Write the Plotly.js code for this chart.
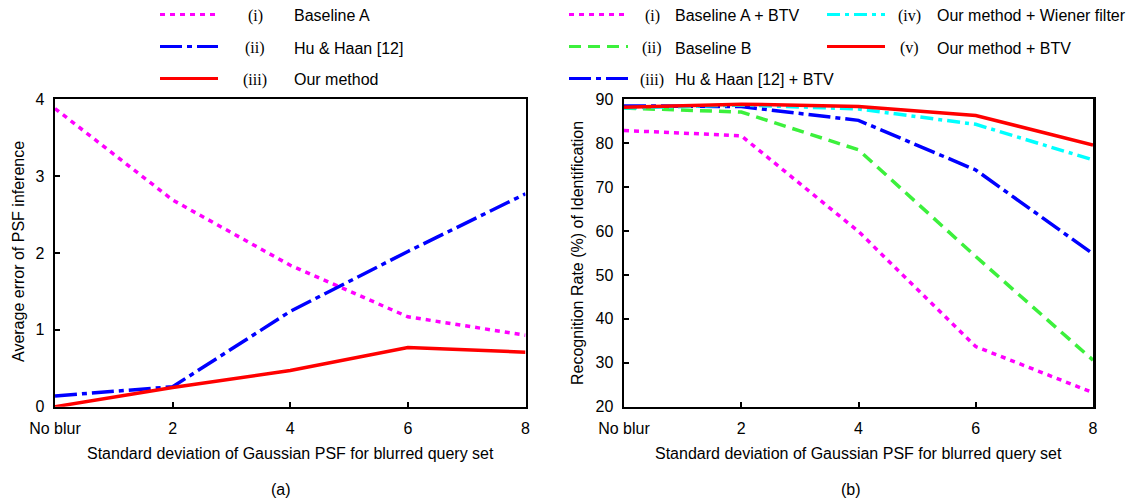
<!DOCTYPE html>
<html>
<head>
<meta charset="utf-8">
<script src="https://cdn.plot.ly/plotly-3.0.1.min.js"></script>
<style>
html,body{margin:0;padding:0;background:#fff;}
#chart{width:1133px;height:502px;}
</style>
</head>
<body>
<div id="chart"></div>
<script>
// ---------- data ----------
const xVals = [0, 2, 4, 6, 8];
const xTickText = ['No blur', '2', '4', '6', '8'];

// (a) average error of PSF inference
const aRoman = ['(i)', '(ii)', '(iii)'];
const aNames = ['Baseline A', 'Hu & Haan [12]', 'Our method'];
const aBaselineA = [3.88, 2.69, 1.84, 1.17, 0.93];
const aHuHaan    = [0.14, 0.26, 1.24, 2.02, 2.77];
const aOurs      = [0.00, 0.25, 0.47, 0.77, 0.71];

// (b) recognition rate (%)
const bRoman = ['(i)', '(ii)', '(iii)', '(iv)', '(v)'];
const bNames = ['Baseline A + BTV', 'Baseline B', 'Hu & Haan [12] + BTV',
                'Our method + Wiener filter', 'Our method + BTV'];
const bBaselineA_BTV = [82.9, 81.7, 59.9, 33.7, 23.2];
const bBaselineB     = [88.0, 87.1, 78.5, 54.2, 30.6];
const bHuHaan_BTV    = [88.5, 88.35, 85.2, 73.9, 54.8];
const bOursWiener    = [88.0, 88.7, 87.8, 84.3, 76.2];
const bOursBTV       = [88.2, 88.9, 88.35, 86.3, 79.6];

// ---------- styles ----------
const SANS = 'Liberation Sans, Arial, Helvetica, sans-serif';
const SERIF = 'Liberation Serif, Times New Roman, serif';
const W = 1133, H = 502;
const styleMagenta = {color: '#ff00ff', width: 3.5, dash: '5px,5px'};
const styleBlue    = {color: '#0000ff', width: 3.5, dash: '22px,5px,5px,5px'};
const styleRed     = {color: '#ff0000', width: 3.5, dash: 'solid'};
const styleGreen   = {color: '#3cf03c', width: 3.5, dash: '12px,7px'};
const styleCyan    = {color: '#00ffff', width: 3.5, dash: '13px,5px,4px,5px'};

const aSeries = [aBaselineA, aHuHaan, aOurs];
const aStyles = [styleMagenta, styleBlue, styleRed];
const bSeries = [bBaselineA_BTV, bBaselineB, bHuHaan_BTV, bOursWiener, bOursBTV];
const bStyles = [styleMagenta, styleGreen, styleBlue, styleCyan, styleRed];

const traces = [];
aSeries.forEach((ys, i) => traces.push({
  type: 'scatter', mode: 'lines', x: xVals, y: ys, xaxis: 'x', yaxis: 'y',
  name: aRoman[i] + ' ' + aNames[i], line: aStyles[i], showlegend: false, hoverinfo: 'skip'
}));
bSeries.forEach((ys, i) => traces.push({
  type: 'scatter', mode: 'lines', x: xVals, y: ys, xaxis: 'x2', yaxis: 'y2',
  name: bRoman[i] + ' ' + bNames[i], line: bStyles[i], showlegend: false, hoverinfo: 'skip'
}));

// ---------- axes ----------
const yDom = [1 - 406.7 / H, 1 - 99.3 / H];
function xAxis(dom, anchor) {
  return {
    domain: dom, anchor: anchor, range: [0, 8], tickmode: 'array',
    tickvals: xVals, ticktext: xTickText, ticks: 'inside', ticklen: 5, tickwidth: 2,
    tickcolor: '#000', showline: true, mirror: true, linewidth: 2.5, linecolor: '#000',
    showgrid: false, zeroline: false, automargin: false, ticklabelstandoff: 6,
    tickfont: {family: SANS, size: 16, color: '#000'}, fixedrange: true
  };
}
function yAxis(range, dtick, anchor) {
  return {
    domain: yDom, anchor: anchor, range: range, dtick: dtick, tick0: range[0],
    ticks: 'inside', ticklen: 5, tickwidth: 2, tickcolor: '#000',
    showline: true, mirror: true, linewidth: 2.5, linecolor: '#000',
    showgrid: false, zeroline: false, automargin: false, ticklabelstandoff: 5,
    tickfont: {family: SANS, size: 16, color: '#000'}, fixedrange: true
  };
}

// ---------- legends (drawn as keys + text) ----------
const shapes = [];
const annotations = [];
function legendRow(style, x0, x1, y, roman, romanX, name, nameX) {
  shapes.push({type: 'line', xref: 'paper', yref: 'paper',
    x0: x0 / W, x1: x1 / W, y0: 1 - y / H, y1: 1 - y / H,
    line: {color: style.color, width: 3, dash: style.dash}});
  annotations.push({xref: 'paper', yref: 'paper', x: romanX / W, y: 1 - (y + 1.5) / H,
    xanchor: 'center', yanchor: 'middle', showarrow: false, text: roman,
    font: {family: SERIF, size: 16, color: '#000'}});
  annotations.push({xref: 'paper', yref: 'paper', x: nameX / W, y: 1 - (y + 1.5) / H,
    xanchor: 'left', yanchor: 'middle', showarrow: false, text: name,
    font: {family: SANS, size: 16, color: '#000'}});
}
const rowsY = [14.5, 46.5, 78.5];
aNames.forEach((n, i) => legendRow(aStyles[i], 160, 218, rowsY[i], aRoman[i], 255, n, 292));
bNames.forEach((n, i) => {
  const col = i < 3 ? 0 : 1;
  const row = i < 3 ? i : i - 3;
  if (col === 0) legendRow(bStyles[i], 569, 628, rowsY[row], bRoman[i], 652, n, 673);
  else legendRow(bStyles[i], 827, 885, rowsY[row], bRoman[i], 909.5, n, 935);
});

// axis titles and panel labels
function txt(x, y, text, angle, size) {
  annotations.push({xref: 'paper', yref: 'paper', x: x / W, y: 1 - y / H,
    xanchor: 'center', yanchor: 'middle', showarrow: false, text: text,
    textangle: angle || 0, font: {family: SANS, size: size || 16, color: '#000'}});
}
txt(290, 453, 'Standard deviation of Gaussian PSF for blurred query set');
txt(858.5, 453, 'Standard deviation of Gaussian PSF for blurred query set');
txt(18, 252, 'Average error of PSF inference', -90);
txt(577, 253, 'Recognition Rate (%) of Identification', -90);
txt(281, 489, '(a)');
txt(851, 489, '(b)');

const layout = {
  width: W, height: H, autosize: false,
  margin: {l: 0, r: 0, t: 0, b: 0, pad: 0},
  paper_bgcolor: '#fff', plot_bgcolor: '#fff',
  showlegend: false,
  xaxis: xAxis([55 / W, 525.5 / W], 'y'),
  yaxis: yAxis([0, 4], 1, 'x'),
  xaxis2: xAxis([624 / W, 1093 / W], 'y2'),
  yaxis2: yAxis([20, 90], 10, 'x2'),
  yaxis3: {overlaying: 'y2', anchor: 'x2', side: 'right', range: [0, 4],
    tickmode: 'array', tickvals: [1, 2, 3], ticks: 'inside', ticklen: 5, tickwidth: 2,
    tickcolor: '#000', showticklabels: false, showline: false, showgrid: false,
    zeroline: false, fixedrange: true},
  shapes: shapes,
  annotations: annotations
};

Plotly.newPlot('chart', traces, layout, {staticPlot: true, displayModeBar: false});
</script>
</body>
</html>
